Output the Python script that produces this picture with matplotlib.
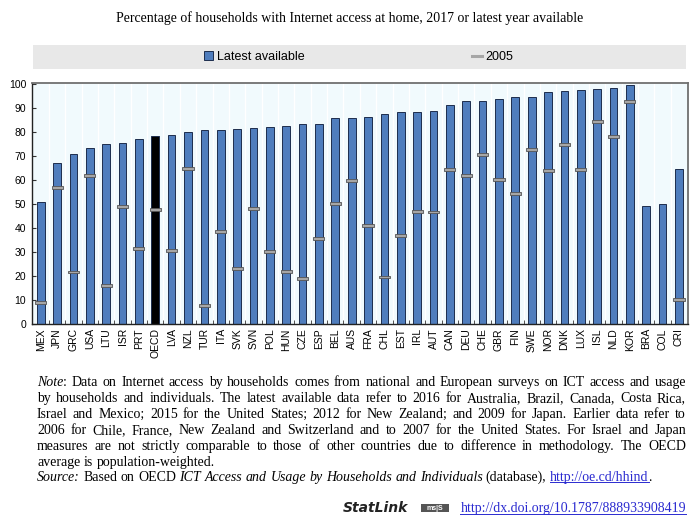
import numpy as np
import matplotlib
matplotlib.use("Agg")
import matplotlib.pyplot as plt
from matplotlib.patches import Rectangle, Patch
from matplotlib.lines import Line2D

countries = ["MEX", "JPN", "GRC", "USA", "LTU", "ISR", "PRT", "OECD", "LVA", "NZL",
             "TUR", "ITA", "SVK", "SVN", "POL", "HUN", "CZE", "ESP", "BEL", "AUS",
             "FRA", "CHL", "EST", "IRL", "AUT", "CAN", "DEU", "CHE", "GBR", "FIN",
             "SWE", "NOR", "DNK", "LUX", "ISL", "NLD", "KOR", "BRA", "COL", "CRI"]
latest = [51.0, 67.1, 71.0, 73.5, 74.9, 75.5, 77.0, 78.3, 78.7, 80.1,
          80.8, 81.1, 81.5, 81.9, 82.0, 82.5, 83.3, 83.4, 85.9, 86.1,
          86.4, 87.6, 88.3, 88.4, 88.9, 91.4, 93.0, 93.2, 94.0, 94.6,
          94.8, 96.8, 97.2, 97.5, 97.9, 98.3, 99.7, 49.3, 50.0, 64.8]
y2005 = [8.8, 57.0, 21.7, 62.0, 15.9, 48.9, 31.5, 47.8, 30.5, 65.0,
         7.7, 38.6, 23.0, 48.2, 30.4, 22.0, 18.9, 35.5, 50.1, 60.0,
         40.9, 19.6, 36.8, 47.1, 46.7, 64.3, 61.8, 70.6, 60.3, 54.3,
         72.7, 64.1, 74.9, 64.6, 84.5, 78.3, 92.9, np.nan, np.nan, 10.2]

title = "Percentage of households with Internet access at home, 2017 or latest year available"

# note lines, [i] italic, [n] normal, [l] link
note_lines = [
    "[i]Note[n]: Data on Internet access by households comes from national and European surveys on ICT access and usage",
    "by households and individuals. The latest available data refer to 2016 for Australia, Brazil, Canada, Costa Rica,",
    "Israel and Mexico; 2015 for the United States; 2012 for New Zealand; and 2009 for Japan. Earlier data refer to",
    "2006 for Chile, France, New Zealand and Switzerland and to 2007 for the United States. For Israel and Japan",
    "measures are not strictly comparable to those of other countries due to difference in methodology. The OECD",
    "average is population-weighted.",
    "[i]Source:[n] Based on OECD [i]ICT Access and Usage by Households and Individuals[n] (database), [l]http://oe.cd/hhind[n].",
]
justified = [True, True, True, True, True, False, False]
statlink_url = "http://dx.doi.org/10.1787/888933908419"

W, H = 700, 523
BLUE = "#4f7dbd"
EDGE = "#1d2d4d"
SANS = "Liberation Sans"
SERIF = "Liberation Serif"

fig = plt.figure(figsize=(W / 100, H / 100), dpi=100)
ax = fig.add_axes([31.7 / W, 1 - 324 / H, (688 - 31.7) / W, (324 - 83.5) / H])
ax.set_facecolor("#f1fafd")

x = np.arange(len(countries))
colors = ["black" if c == "OECD" else BLUE for c in countries]
ax.bar(x, latest, width=0.47, color=colors, edgecolor=EDGE, linewidth=0.7, zorder=2)
vals = np.array(y2005)
ax.bar(x, np.full(len(x), 1.2), bottom=vals - 0.6, width=0.68, color="#a6a6a6",
       edgecolor="#555555", linewidth=0.6, zorder=3)

ax.set_xlim(-0.55, len(countries) - 0.45)
ax.set_ylim(0, 100.3)
ax.set_yticks(np.arange(0, 101, 10))
ax.set_xticks(x)
ax.set_xticklabels(countries, rotation=90, fontsize=7.5, family=SANS)
ax.set_xticks(x[:-1] + 0.5, minor=True)
ax.tick_params(axis="x", which="major", length=0, pad=3)
ax.tick_params(axis="x", which="minor", direction="in", length=3, color="#333333")
ax.tick_params(axis="y", direction="in", length=3, labelsize=7.5, pad=4, color="#333333")
for lbl in ax.get_yticklabels():
    lbl.set_family(SANS)
ax.grid(axis="x", which="minor", color="white", linewidth=1.0, zorder=0)
ax.set_axisbelow(True)
for s in ["left", "bottom"]:
    ax.spines[s].set_color("#222222")
    ax.spines[s].set_linewidth(1.0)
for s in ["top", "right"]:
    ax.spines[s].set_color("#707070")
    ax.spines[s].set_linewidth(1.3)

fig.text(0.5, 1 - 18 / H, title, ha="center", va="center", fontsize=10, family=SERIF)

# legend band
fig.add_artist(Rectangle((33 / W, 1 - 69 / H), 653 / W, 24 / H, transform=fig.transFigure,
                         facecolor="#e8e8e8", edgecolor="none", zorder=0))
handles = [Patch(facecolor=BLUE, edgecolor=EDGE, linewidth=0.7),
           Line2D([], [], color="#a6a6a6", linewidth=2.2)]
fig.legend(handles, ["Latest available", "2005"], loc="center",
           bbox_to_anchor=(358.5 / W, 1 - 57 / H), ncol=2, frameon=False,
           columnspacing=13.4, handletextpad=0.3, handlelength=0.75, handleheight=0.75,
           prop={"family": SANS, "size": 9})

# note block, justified by hand
fig.canvas.draw()
rend = fig.canvas.get_renderer()
FS = 10


def parse(line):
    words = []
    style = "n"
    for w in line.split(" "):
        pieces = []
        parts = w.split("[")
        for k, p in enumerate(parts):
            if k > 0 and len(p) > 1 and p[1] == "]":
                style = p[0]
                p = p[2:]
            elif k > 0:
                p = "[" + p
            if p:
                pieces.append((p, style))
        words.append(pieces)
    return words


def text_kw(style):
    kw = dict(fontsize=FS, family=SERIF, va="baseline", ha="left")
    if style == "i":
        kw["style"] = "italic"
    if style == "l":
        kw["color"] = "#2a2ad0"
    return kw


def pwidth(s, style):
    t = fig.text(0, 0, s, **text_kw(style))
    w = t.get_window_extent(rend).width
    t.remove()
    return w


space_w = pwidth("a b", "n") - pwidth("ab", "n")
x_left, x_right = 37.0, 686.0
for i, line in enumerate(note_lines):
    words = parse(line)
    widths = [[pwidth(p, s) for p, s in w] for w in words]
    total = sum(sum(ws) for ws in widths)
    if justified[i] and len(words) > 1:
        gap = (x_right - x_left - total) / (len(words) - 1)
    else:
        gap = space_w
    # small offset keeps every word on the same pixel baseline
    yb = 386 + round(i * 15.9) - 0.1
    xp = x_left
    for w, ws in zip(words, widths):
        for (p, s), pw in zip(w, ws):
            fig.text(xp / W, 1 - yb / H, p, **text_kw(s))
            if s == "l":
                fig.add_artist(Line2D([xp / W, (xp + pw) / W], [1 - (yb + 1.5) / H] * 2,
                                      transform=fig.transFigure, color="#2a2ad0", lw=0.7))
            xp += pw
        xp += gap

# statlink footer
yb = 512
fig.text(343 / W, 1 - yb / H, "StatLink", fontsize=10, family="DejaVu Sans",
         style="italic", weight="bold", va="baseline", ha="left", color="#222222")
fig.add_artist(Rectangle((421 / W, 1 - 512 / H), 28 / W, 8 / H, transform=fig.transFigure,
                         facecolor="#555555", edgecolor="none"))
fig.text(435 / W, 1 - 508 / H, "ms|S", fontsize=5, family=SANS, color="white",
         weight="bold", ha="center", va="center")
uw = pwidth(statlink_url, "l")
fig.text(x_right / W, 1 - yb / H, statlink_url, **dict(text_kw("l"), ha="right"))
fig.add_artist(Line2D([(x_right - uw) / W, x_right / W], [1 - (yb + 1.5) / H] * 2,
                      transform=fig.transFigure, color="#2a2ad0", lw=0.7))

fig.savefig("out.png", dpi=100)
